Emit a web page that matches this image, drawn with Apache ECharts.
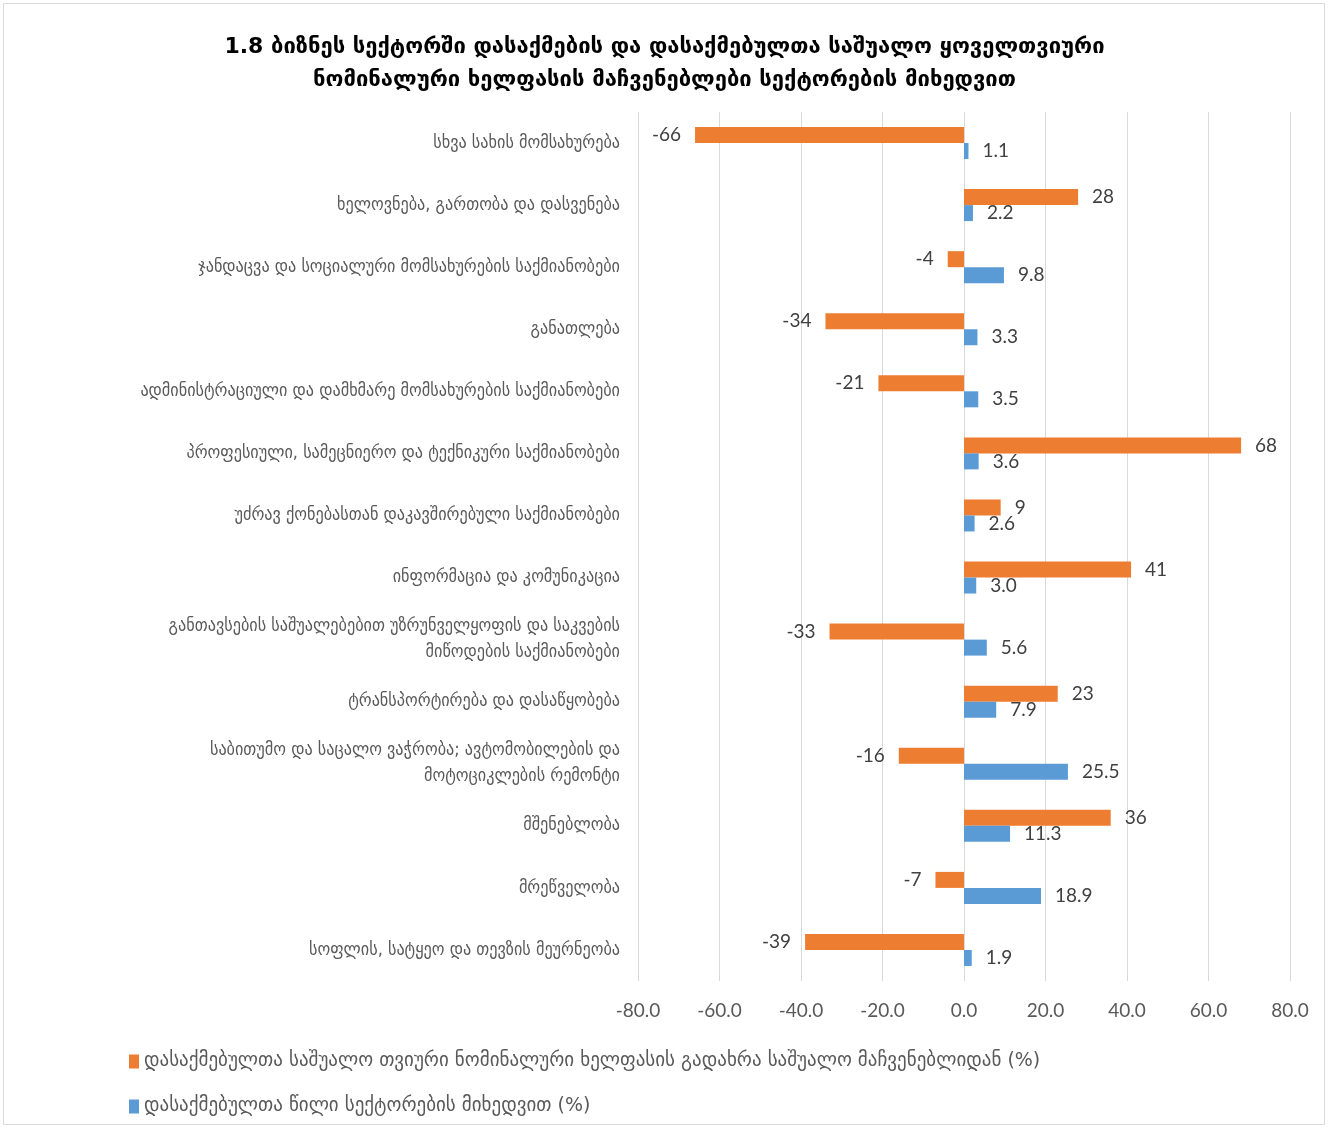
<!DOCTYPE html>
<html><head><meta charset="utf-8">
<script src="https://cdn.jsdelivr.net/npm/echarts@6/dist/echarts.min.js"></script>
<style>html,body{margin:0;padding:0;background:#fff}#c{width:1329px;height:1128px}</style>
</head><body><div id="c"></div>
<script>
const titleText = "1.8 ბიზნეს სექტორში დასაქმების და დასაქმებულთა საშუალო ყოველთვიური\nნომინალური ხელფასის მაჩვენებლები სექტორების მიხედვით";
const categories = [
  "სხვა სახის მომსახურება",
  "ხელოვნება, გართობა და დასვენება",
  "ჯანდაცვა და სოციალური მომსახურების საქმიანობები",
  "განათლება",
  "ადმინისტრაციული და დამხმარე მომსახურების საქმიანობები",
  "პროფესიული, სამეცნიერო და ტექნიკური საქმიანობები",
  "უძრავ ქონებასთან დაკავშირებული საქმიანობები",
  "ინფორმაცია და კომუნიკაცია",
  "განთავსების საშუალებებით უზრუნველყოფის და საკვების\nმიწოდების საქმიანობები",
  "ტრანსპორტირება და დასაწყობება",
  "საბითუმო და საცალო ვაჭრობა; ავტომობილების და\nმოტოციკლების რემონტი",
  "მშენებლობა",
  "მრეწველობა",
  "სოფლის, სატყეო და თევზის მეურნეობა"
];
const wageDeviation = [-66, 28, -4, -34, -21, 68, 9, 41, -33, 23, -16, 36, -7, -39];
const employmentShare = [1.1, 2.2, 9.8, 3.3, 3.5, 3.6, 2.6, 3.0, 5.6, 7.9, 25.5, 11.3, 18.9, 1.9];
const seriesNames = [
  "დასაქმებულთა საშუალო თვიური ნომინალური ხელფასის გადახრა საშუალო მაჩვენებლიდან (%)",
  "დასაქმებულთა წილი სექტორების მიხედვით (%)"
];
const axisMin = -80, axisMax = 80, axisStep = 20;

const geo = "'DejaVu Sans Condensed','DejaVu Sans',sans-serif";
const geoWide = "'DejaVu Sans',sans-serif";
const num = "Lato,'Open Sans',sans-serif";
const chart = echarts.init(document.getElementById('c'));
chart.setOption({
  animation: false,
  title: {
    text: titleText, left: 'center', top: 26,
    textStyle: {fontFamily: geoWide, fontSize: 22, fontWeight: 'bold', color: '#000', lineHeight: 33}
  },
  graphic: [{type: 'rect', shape: {x: 3.5, y: 3.5, width: 1321, height: 1121},
    style: {fill: 'none', stroke: '#d9d9d9', lineWidth: 1}}],
  legend: {
    orient: 'vertical', left: 124, top: 1047, itemGap: 26,
    itemWidth: 10, itemHeight: 14, icon: 'rect',
    textStyle: {fontFamily: geoWide, fontSize: 19, color: '#595959'},
    data: seriesNames
  },
  grid: {left: 638, right: 39, top: 112, bottom: 147, containLabel: false},
  xAxis: {
    type: 'value', min: axisMin, max: axisMax, interval: axisStep,
    axisLabel: {formatter: v => v.toFixed(1), fontFamily: num, fontSize: 19, color: '#595959', margin: 20},
    splitLine: {lineStyle: {color: '#d9d9d9', width: 1}},
    axisLine: {show: false}, axisTick: {show: false}
  },
  yAxis: {
    type: 'category', data: categories, inverse: true,
    axisLine: {show: false, onZero: false}, axisTick: {show: false},
    axisLabel: {fontFamily: geo, fontSize: 18, color: '#595959', margin: 18, lineHeight: 26}
  },
  series: [
    {
      name: seriesNames[0], type: 'bar', barWidth: 16, barGap: '0%',
      data: wageDeviation.map(v => ({value: v, label: {position: v < 0 ? 'left' : 'right'}})),
      itemStyle: {color: '#ED7D31'},
      label: {show: true, distance: 14, fontFamily: num, fontSize: 19, color: '#404040',
        formatter: p => String(p.value)}
    },
    {
      name: seriesNames[1], type: 'bar', data: employmentShare, barWidth: 16, barGap: '0%',
      itemStyle: {color: '#5B9BD5'},
      label: {show: true, position: 'right', distance: 14, fontFamily: num, fontSize: 19, color: '#404040',
        formatter: p => p.value.toFixed(1)}
    }
  ]
});
</script></body></html>
